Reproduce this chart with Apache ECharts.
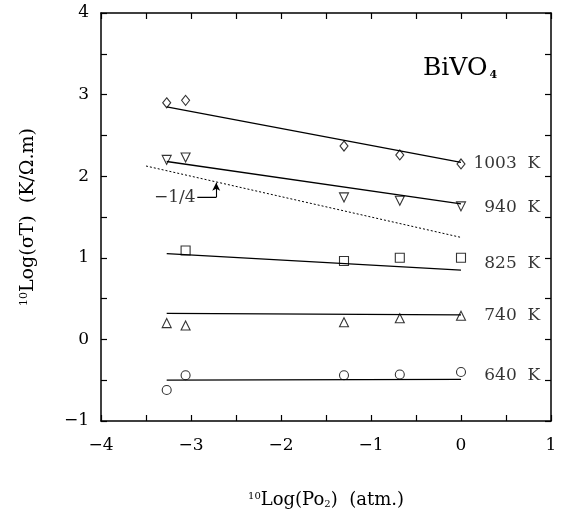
<!DOCTYPE html>
<html>
<head>
<meta charset="utf-8">
<script src="https://cdn.jsdelivr.net/npm/echarts@6/dist/echarts.min.js"></script>
<style>
html,body{margin:0;padding:0;background:#fff;}
#chart{width:568px;height:514px;}
</style>
</head>
<body>
<div id="chart"></div>
<script>
// ---- data ----
const xPos = [-3.27, -3.06, -1.30, -0.68, 0];
const t1003 = [2.90, 2.93, 2.37, 2.26, 2.15];
const t940 = [2.20, 2.23, 1.74, 1.70, 1.63];
const t825 = [null, 1.09, 0.96, 1.00, 1.00];
const t740 = [0.20, 0.17, 0.21, 0.26, 0.29];
const t640 = [-0.62, -0.44, -0.44, -0.43, -0.40];

const fitX = [-3.27, 0];
const fit1003 = [2.85, 2.17];
const fit940 = [2.18, 1.66];
const fit825 = [1.05, 0.85];
const fit740 = [0.32, 0.30];
const fit640 = [-0.50, -0.49];

const slopeX = [-3.5, 0];
const slopeY = [2.125, 1.25];

const tempLabels = ['1003  K', '940  K', '825  K', '740  K', '640  K'];
const tempLabelY = [2.15, 1.62, 0.93, 0.29, -0.44];
const tempLabelX = 0.88;

const slopeText = '\u22121/4';
const slopeTextPos = [-2.95, 1.74];
const arrowPath = [[-2.93, 1.74], [-2.72, 1.74]];
const arrowTip = [[-2.72, 1.74], [-2.72, 1.92]];

const FONT = 'DejaVu Serif';

function pts(xs, ys) {
  const out = [];
  xs.forEach((x, i) => { if (ys[i] !== null) out.push([x, ys[i]]); });
  return out;
}

const markerStyle = { color: 'rgba(0,0,0,0)', borderColor: '#000', borderWidth: 1.1 };

function scatter(name, ys, symbol, size, rotate) {
  return {
    name, type: 'scatter', data: pts(xPos, ys), symbol, symbolSize: size,
    symbolRotate: rotate || 0, itemStyle: markerStyle, z: 5
  };
}
function fit(ys) {
  return {
    type: 'line', data: pts(fitX, ys), symbol: 'none', silent: true,
    lineStyle: { color: '#000', width: 1.3 }, z: 3
  };
}

const minus = v => String(v).replace('-', '\u2212');

const chart = echarts.init(document.getElementById('chart'), null, { renderer: 'canvas' });
function axisCommon() {
  return {
    type: 'value',
    axisLine: { show: true, onZero: false, lineStyle: { color: '#000', width: 1.5 } },
    axisTick: { show: true, inside: true, length: 6, lineStyle: { color: '#000', width: 1.2 } },
    minorTick: { show: true, splitNumber: 2, length: 6, lineStyle: { color: '#000', width: 1.2 } },
    splitLine: { show: false }
  };
}

chart.setOption({
  animation: false,
  backgroundColor: '#fff',
  grid: { left: 101, right: 17, top: 13, bottom: 91, show: false },
  xAxis: [
    Object.assign(axisCommon(), {
      min: -4, max: 1, interval: 1, position: 'bottom',
      axisLabel: { margin: 16, color: '#000', fontFamily: FONT, fontSize: 17, formatter: minus },
      name: '{sup|10}Log(Po{sub|2})  (atm.)',
      nameLocation: 'middle', nameGap: 70,
      nameTextStyle: {
        color: '#000', fontFamily: FONT, fontSize: 18,
        rich: {
          sup: { fontSize: 10, verticalAlign: 'top', fontFamily: FONT, color: '#000', padding: [0, 0, 8, 0] },
          sub: { fontSize: 10, verticalAlign: 'bottom', fontFamily: FONT, color: '#000', padding: [6, 0, 0, 0] }
        }
      }
    }),
    Object.assign(axisCommon(), {
      min: -4, max: 1, interval: 1, position: 'top',
      axisLabel: { show: false }
    })
  ],
  yAxis: [
    Object.assign(axisCommon(), {
      min: -1, max: 4, interval: 1, position: 'left',
      axisLabel: { margin: 12, color: '#000', fontFamily: FONT, fontSize: 17, formatter: minus },
      name: '{sup|10}Log(σT)  (K/Ω.m)',
      nameLocation: 'middle', nameGap: 63, nameRotate: 90,
      nameTextStyle: {
        color: '#000', fontFamily: FONT, fontSize: 19,
        rich: {
          sup: { fontSize: 11, verticalAlign: 'top', fontFamily: FONT, color: '#000', padding: [0, 0, 8, 0] }
        }
      }
    }),
    Object.assign(axisCommon(), {
      min: -1, max: 4, interval: 1, position: 'right',
      axisLabel: { show: false }
    })
  ],
  series: [
    fit(fit1003), fit(fit940), fit(fit825), fit(fit740), fit(fit640),
    {
      type: 'line', data: pts(slopeX, slopeY), symbol: 'none', silent: true,
      lineStyle: { color: '#000', width: 1, type: [2, 2] }, z: 3
    },
    scatter('1003 K', t1003, 'diamond', [8, 10]),
    scatter('940 K', t940, 'triangle', 9, 180),
    scatter('825 K', t825, 'rect', 9),
    scatter('740 K', t740, 'triangle', 9),
    scatter('640 K', t640, 'circle', 9),
    {
      type: 'scatter', symbolSize: 0, silent: true,
      data: tempLabels.map((t, i) => ({ value: [tempLabelX, tempLabelY[i]], name: t })),
      label: {
        show: true, position: [0, 0], align: 'right', verticalAlign: 'middle',
        formatter: p => p.name, color: '#000', fontFamily: FONT, fontSize: 17
      }
    },
    {
      type: 'scatter', symbolSize: 0, silent: true,
      data: [{ value: slopeTextPos, name: slopeText }],
      label: {
        show: true, position: [0, 0], align: 'right', verticalAlign: 'middle',
        formatter: p => p.name, color: '#000', fontFamily: FONT, fontSize: 17
      }
    },
    {
      type: 'line', data: arrowPath, symbol: 'none', silent: true,
      lineStyle: { color: '#000', width: 1.1 },
      markLine: {
        silent: true, symbol: ['none', 'arrow'], symbolSize: [6, 8], label: { show: false },
        lineStyle: { color: '#000', width: 1.1, type: 'solid' },
        data: [[{ coord: arrowTip[0] }, { coord: arrowTip[1] }]]
      }
    }
  ],
  graphic: [
    {
      type: 'text', left: 423, top: 56,
      style: {
        text: 'BiVO{s|4}', fill: '#000', font: '25px "DejaVu Serif"',
        rich: { s: { fontSize: 11, fontWeight: 'bold', fontFamily: FONT, fill: '#000', padding: [14, 0, 0, 2] } }
      }
    }
  ]
});
</script>
</body>
</html>
